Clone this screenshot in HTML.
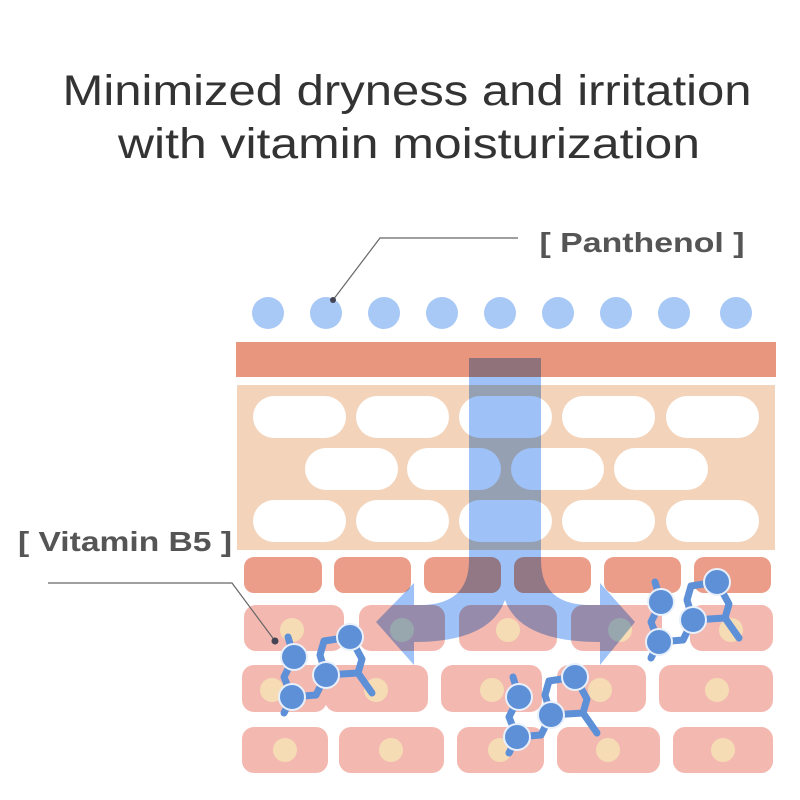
<!DOCTYPE html>
<html><head><meta charset="utf-8"><style>
html,body{margin:0;padding:0;background:#fff}
svg{display:block}
</style></head><body>
<svg width="800" height="800" viewBox="0 0 800 800" xmlns="http://www.w3.org/2000/svg">
<defs>
<g id="mol">
  <g stroke="#5e90d8" stroke-width="7" fill="none" stroke-linecap="round" stroke-linejoin="round">
    <polyline points="-62,0 -56,20"/>
    <polyline points="0,0 -26,4 -30,18 -24,38"/>
    <polyline points="-56,20 -66,40 -58,60"/>
    <polyline points="-58,60 -66,76"/>
    <polyline points="-24,38 -34,58 -58,60"/>
    <polyline points="0,0 12,22 8,36 -24,38"/>
    <polyline points="8,36 22,56"/>
  </g>
  <g fill="#5e90d8" stroke="#e8f0fc" stroke-width="2">
    <circle cx="0" cy="0" r="13"/>
    <circle cx="-56" cy="20" r="13"/>
    <circle cx="-24" cy="38" r="13"/>
    <circle cx="-58" cy="60" r="13"/>
  </g>
</g>
</defs>
<text x="407" y="105" font-family="Liberation Sans, sans-serif" font-size="43" fill="#333" text-anchor="middle" textLength="689" lengthAdjust="spacingAndGlyphs">Minimized dryness and irritation</text>
<text x="409" y="158" font-family="Liberation Sans, sans-serif" font-size="43" fill="#333" text-anchor="middle" textLength="582" lengthAdjust="spacingAndGlyphs">with vitamin moisturization</text>

<text x="642" y="252" font-family="Liberation Sans, sans-serif" font-size="28" font-weight="bold" fill="#555" text-anchor="middle" textLength="205" lengthAdjust="spacingAndGlyphs">[ Panthenol ]</text>

<text x="125" y="551" font-family="Liberation Sans, sans-serif" font-size="28" font-weight="bold" fill="#555" text-anchor="middle" textLength="214" lengthAdjust="spacingAndGlyphs">[ Vitamin B5 ]</text>

<g fill="#a8c8f6">
<circle cx="268" cy="313" r="16"/><circle cx="326" cy="313" r="16"/><circle cx="384" cy="313" r="16"/>
<circle cx="442" cy="313" r="16"/><circle cx="500" cy="313" r="16"/><circle cx="558" cy="313" r="16"/>
<circle cx="616" cy="313" r="16"/><circle cx="674" cy="313" r="16"/><circle cx="736" cy="313" r="16"/>
</g>
<polyline points="518,238 380,238 333,300" stroke="#666" stroke-width="1.2" fill="none"/>
<circle cx="333" cy="300" r="3" fill="#445"/>

<rect x="236" y="342" width="540" height="35" fill="#e9967f"/>
<rect x="237" y="385" width="538" height="165" fill="#f3d3b9"/>
<g fill="#fff">
<rect x="253" y="396" width="93" height="42" rx="21"/><rect x="356" y="396" width="93" height="42" rx="21"/>
<rect x="459" y="396" width="93" height="42" rx="21"/><rect x="562" y="396" width="93" height="42" rx="21"/>
<rect x="666" y="396" width="93" height="42" rx="21"/>
<rect x="305" y="448" width="93" height="42" rx="21"/><rect x="407" y="448" width="94" height="42" rx="21"/>
<rect x="511" y="448" width="93" height="42" rx="21"/><rect x="614" y="448" width="94" height="42" rx="21"/>
<rect x="253" y="500" width="93" height="42" rx="21"/><rect x="356" y="500" width="93" height="42" rx="21"/>
<rect x="459" y="500" width="93" height="42" rx="21"/><rect x="562" y="500" width="93" height="42" rx="21"/>
<rect x="666" y="500" width="93" height="42" rx="21"/>
</g>

<g fill="#eb9d89">
<rect x="244" y="557" width="78" height="36" rx="10"/><rect x="334" y="557" width="77" height="36" rx="10"/>
<rect x="424" y="557" width="77" height="36" rx="10"/><rect x="514" y="557" width="77" height="36" rx="10"/>
<rect x="604" y="557" width="77" height="36" rx="10"/><rect x="694" y="557" width="77" height="36" rx="10"/>
</g>
<g fill="#f3b8b0">
<rect x="244" y="605" width="100" height="46" rx="12"/><rect x="359" y="605" width="86" height="46" rx="12"/>
<rect x="459" y="605" width="98" height="46" rx="12"/><rect x="571" y="605" width="91" height="46" rx="12"/>
<rect x="690" y="605" width="83" height="46" rx="12"/>
<rect x="242" y="665" width="85" height="47" rx="12"/><rect x="325" y="665" width="103" height="47" rx="12"/>
<rect x="441" y="665" width="101" height="47" rx="12"/><rect x="557" y="665" width="89" height="47" rx="12"/>
<rect x="659" y="665" width="114" height="47" rx="12"/>
<rect x="242" y="727" width="86" height="46" rx="12"/><rect x="339" y="727" width="105" height="46" rx="12"/>
<rect x="457" y="727" width="87" height="46" rx="12"/><rect x="557" y="727" width="103" height="46" rx="12"/>
<rect x="673" y="727" width="100" height="46" rx="12"/>
</g>
<g fill="#f6dcb4">
<circle cx="292" cy="630" r="12"/><circle cx="402" cy="630" r="12"/><circle cx="508" cy="630" r="12"/>
<circle cx="620" cy="630" r="12"/><circle cx="731" cy="630" r="12"/>
<circle cx="272" cy="690" r="12"/><circle cx="376" cy="690" r="12"/><circle cx="492" cy="690" r="12"/>
<circle cx="600" cy="690" r="12"/><circle cx="717" cy="690" r="12"/>
<circle cx="285" cy="750" r="12"/><circle cx="391" cy="750" r="12"/><circle cx="500" cy="750" r="12"/>
<circle cx="608" cy="750" r="12"/><circle cx="723" cy="750" r="12"/>
</g>

<path d="M469,358 L541,358 L541,560 Q541,605 590,605 L600,605 L600,583 L635,622 L600,665 L600,642 Q520,642 505,600 Q490,642 414,642 L414,665 L376,622 L414,583 L414,605 L420,605 Q469,605 469,560 Z" fill="#8db6f6" style="mix-blend-mode:multiply" opacity="0.85"/>

<use href="#mol" x="350" y="637"/>
<use href="#mol" x="575" y="677"/>
<use href="#mol" x="717" y="582"/>
<polyline points="48,583 232,583 275,641" stroke="#666" stroke-width="1.2" fill="none"/>
<circle cx="275" cy="641" r="3.5" fill="#445"/>
</svg>
</body></html>
